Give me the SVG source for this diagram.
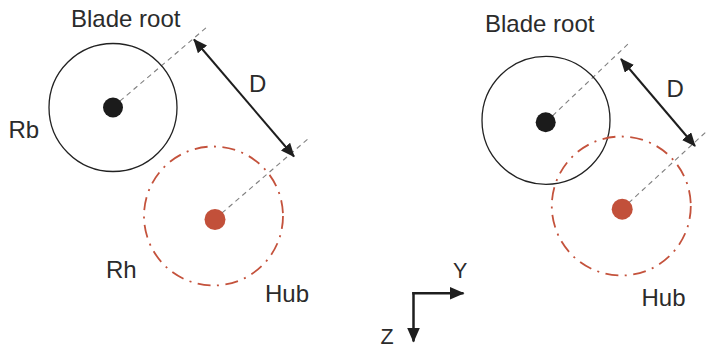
<svg xmlns="http://www.w3.org/2000/svg" width="707" height="348" viewBox="0 0 707 348">
<style>
text{font-family:"Liberation Sans",Arial,sans-serif;font-size:24px;fill:#2b2b2b}
.ax{font-size:21.5px}
.blade{fill:none;stroke:#222;stroke-width:1.3}
.hub{fill:none;stroke:#c4523c;stroke-width:1.8;stroke-dasharray:13 6.5 2 6.5}
.guide{stroke:#808080;stroke-width:1.1;stroke-dasharray:5 4;fill:none}
.dim{stroke:#1e1e1e;stroke-width:2;fill:none;marker-start:url(#ah);marker-end:url(#ah)}
.axis{stroke:#1e1e1e;stroke-width:2.5;fill:none;marker-end:url(#ah2)}
.bdot{fill:#1b1b1b}
.rdot{fill:#c2503a}
</style>
<defs>
<marker id="ah" viewBox="0 0 14 12" refX="13" refY="6" markerWidth="14" markerHeight="12" markerUnits="userSpaceOnUse" orient="auto-start-reverse">
<path d="M0,0 L14,6 L0,12 Z" fill="#1e1e1e"/>
</marker>
<marker id="ah2" viewBox="0 0 15 13" refX="14" refY="6.5" markerWidth="15" markerHeight="13" markerUnits="userSpaceOnUse" orient="auto">
<path d="M0,0 L15,6.5 L0,13 Z" fill="#1e1e1e"/>
</marker>
</defs>
<g id="connectors">
<line class="guide" x1="113" y1="107" x2="207" y2="27"/>
<line class="guide" x1="215" y1="219" x2="309" y2="138"/>
<line class="dim" x1="194" y1="39.5" x2="294" y2="156.5"/>
<line class="guide" x1="546" y1="122" x2="629" y2="43"/>
<line class="guide" x1="622" y1="209" x2="707" y2="131"/>
<line class="dim" x1="621" y1="59" x2="695" y2="146"/>
<line class="axis" x1="413.5" y1="292" x2="413.5" y2="341.5"/>
<line class="axis" x1="412.3" y1="293.3" x2="463.5" y2="293.3"/>
</g>
<g id="left-blade-root">
<circle class="blade" cx="113" cy="107.5" r="64"/>
<circle class="bdot" cx="113" cy="107.5" r="10"/>
<text x="71" y="27">Blade root</text>
<text x="8.5" y="137.5">Rb</text>
</g>
<g id="left-hub">
<circle class="hub" cx="213.5" cy="216" r="69.5"/>
<circle class="rdot" cx="215" cy="219.5" r="10.5"/>
<text x="106" y="278">Rh</text>
<text x="265" y="301.5">Hub</text>
</g>
<g id="left-D"><text x="249" y="92">D</text></g>
<g id="right-blade-root">
<circle class="blade" cx="546" cy="120.3" r="64"/>
<circle class="bdot" cx="545.7" cy="122.3" r="10"/>
<text x="485" y="32.3">Blade root</text>
</g>
<g id="right-hub">
<circle class="hub" cx="621.3" cy="206" r="69.5"/>
<circle class="rdot" cx="622.2" cy="209.2" r="10.5"/>
<text x="641.5" y="306">Hub</text>
</g>
<g id="right-D"><text x="666.5" y="96.7">D</text></g>
<g id="axes">
<text class="ax" x="453" y="278.3">Y</text>
<text class="ax" x="380.5" y="344.3">Z</text>
</g>
</svg>
